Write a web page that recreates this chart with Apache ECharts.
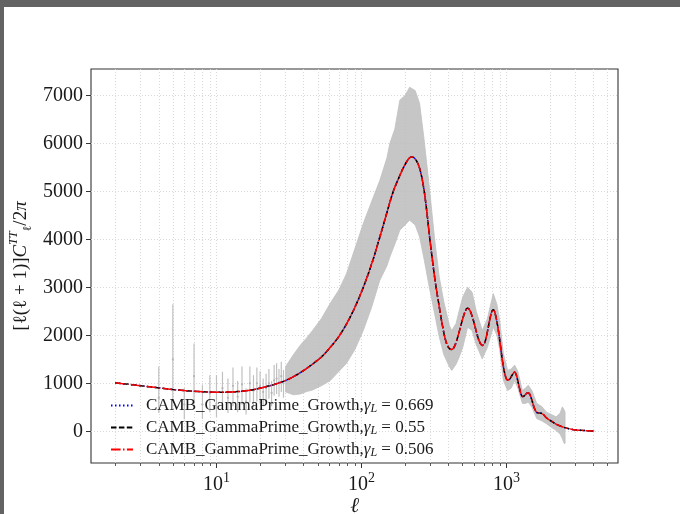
<!DOCTYPE html>
<html>
<head>
<meta charset="utf-8">
<script src="https://cdn.jsdelivr.net/npm/echarts@6/dist/echarts.min.js"></script>
<style>
  html, body { margin: 0; padding: 0; background: #ffffff; }
  #chart { width: 680px; height: 514px; }
</style>
</head>
<body>
<div id="chart"></div>
<script>
// ---- Theory spectra D_ell = ell(ell+1)C_ell/2pi (muK^2), three growth-index runs ----
const seriesNames = [
  'CAMB_GammaPrime_Growth,{g|γ}{s|L} = 0.669',
  'CAMB_GammaPrime_Growth,{g|γ}{s|L} = 0.55',
  'CAMB_GammaPrime_Growth,{g|γ}{s|L} = 0.506'
];
const theoryEll = [2, 3, 4, 5, 6, 7, 8, 10, 12, 14, 17, 21, 25, 30, 35, 40, 46, 53, 61, 70, 79, 90,
  103, 118, 134, 150, 165, 184, 200, 215, 225, 238, 252, 268, 282, 294, 308, 322, 344, 365, 385,
  405, 420, 440, 465, 495, 520, 540, 560, 590, 620, 650, 682, 710, 740, 770, 795, 815, 840, 870,
  900, 930, 960, 990, 1020, 1055, 1100, 1140, 1170, 1210, 1250, 1290, 1330, 1380, 1416, 1450,
  1500, 1560, 1620, 1680, 1740, 1800, 1870, 1950, 2050, 2200, 2450, 2700, 2910, 3300, 3700, 4030];
const theoryDl = [1010, 950, 905, 872, 850, 835, 825, 815, 818, 828, 855, 915, 975, 1060, 1160, 1270,
  1400, 1550, 1750, 1980, 2240, 2580, 3000, 3500, 4050, 4560, 4980, 5330, 5560, 5700, 5715, 5650,
  5480, 5100, 4600, 4100, 3600, 3150, 2600, 2150, 1850, 1720, 1705, 1780, 2000, 2300, 2500, 2570,
  2520, 2330, 2080, 1880, 1790, 1850, 2080, 2340, 2500, 2535, 2430, 2200, 1900, 1560, 1300, 1130,
  1065, 1090, 1180, 1236, 1180, 1000, 820, 725, 740, 790, 806, 770, 650, 480, 395, 380, 375, 350,
  295, 250, 210, 150, 90, 55, 35, 20, 10, 5];

// ---- Measured spectrum: low multipoles as separate error bars ----
const lowEll = [4, 5, 6, 7, 8, 9, 10, 11, 12, 13, 14, 15, 16, 17, 18, 19, 20, 21, 22, 23, 24, 25, 26, 27, 28, 29];
const lowDl  = [700, 1500, 560, 1150, 560, 790, 580, 900, 700, 950, 720, 980, 620, 1000, 850, 1000, 940, 820, 900, 1000, 800, 1060, 1100, 1020, 1150, 1000];
const lowLo  = [380, 650, 250, 560, 260, 400, 300, 480, 380, 520, 400, 560, 350, 600, 500, 620, 580, 520, 600, 680, 520, 740, 780, 720, 820, 700];
const lowHi  = [1350, 2650, 900, 1830, 960, 1170, 1170, 1240, 1100, 1330, 1050, 1350, 900, 1350, 1170, 1330, 1250, 1100, 1200, 1300, 1050, 1380, 1420, 1300, 1450, 1280];

// ---- Measured spectrum: envelope of the dense error bars at higher multipoles ----
const bandEll = [30, 34, 38, 42, 46, 53, 61, 70, 79, 90, 103, 118, 134, 150, 157, 170, 184, 200, 215,
  235, 252, 270, 294, 320, 344, 370, 405, 420, 450, 473, 500, 540, 580, 620, 682, 740, 812, 860, 900,
  953, 1020, 1080, 1140, 1200, 1290, 1350, 1416, 1500, 1620, 1750, 1887, 2050, 2200, 2350, 2430, 2500, 2540];
const bandLo = [820, 760, 780, 830, 860, 950, 1060, 1250, 1420, 1700, 2100, 2600, 3150, 3450, 3630,
  3900, 4190, 4300, 4400, 4300, 4050, 3600, 3000, 2450, 1970, 1600, 1340, 1270, 1400, 1550, 1750, 2170,
  2100, 1800, 1510, 1750, 2170, 2000, 1700, 1060, 850, 900, 1060, 900, 580, 580, 610, 500, 265, 220,
  160, 80, 20, -60, -150, -250, -250];
const bandHi = [1350, 1600, 1800, 1950, 2100, 2350, 2670, 2950, 3290, 3800, 4330, 4800, 5230, 5700,
  6000, 6300, 6900, 7000, 7170, 7100, 6830, 6100, 5090, 4000, 3220, 2700, 2200, 2100, 2250, 2520, 2800,
  3000, 2900, 2500, 2100, 2350, 2870, 2650, 2300, 1620, 1270, 1300, 1380, 1250, 850, 900, 960, 850,
  580, 520, 400, 350, 300, 380, 510, 450, 400];

// ---- Axis ticks ----
const xMajorTicks = [10, 100, 1000];
const xMinorTicks = [2, 3, 4, 5, 6, 7, 8, 9, 20, 30, 40, 50, 60, 70, 80, 90,
  200, 300, 400, 500, 600, 700, 800, 900, 2000, 3000, 4000, 5000];
const yTicks = [0, 1000, 2000, 3000, 4000, 5000, 6000, 7000];

const serif = 'Liberation Serif';
const ink = '#1a1a1a';
const gridLine = { show: true, lineStyle: { color: '#d4d4d4', type: [1, 2], width: 0.9 } };
const errGray = '#c0c0c0';

const chart = echarts.init(document.getElementById('chart'), null, { renderer: 'canvas' });

const xExtent = { min: 1.363, max: 5888 };

const theoryData = theoryEll.map((l, i) => [l, theoryDl[i]]);
const lineStyles = [
  { color: '#0000ff', type: [1.5, 2.5], width: 1.5 },
  { color: '#000000', type: [5.5, 2.4], width: 1.5 },
  { color: '#ff0000', type: [9.6, 2.4, 1.5, 2.4], width: 1.5 }
];

const option = {
  animation: false,
  backgroundColor: '#ffffff',
  graphic: [
    { type: 'rect', shape: { x: 0, y: 0, width: 680, height: 7 }, style: { fill: '#636363' }, z: 100 },
    { type: 'rect', shape: { x: 0, y: 0, width: 4, height: 514 }, style: { fill: '#636363' }, z: 100 }
  ],
  grid: {
    left: 91, top: 69, right: 62, bottom: 51,
    outerBoundsMode: 'none', containLabel: false,
    show: true, borderColor: '#333333', borderWidth: 1.1, backgroundColor: 'transparent'
  },
  legend: {
    data: seriesNames,
    orient: 'vertical',
    left: 105, top: 392,
    itemWidth: 22, itemHeight: 14, itemGap: 4.5,
    itemStyle: { opacity: 0 },
    textStyle: {
      fontFamily: serif, fontSize: 17, color: ink, padding: [0, 0, 0, 8],
      rich: {
        g: { fontFamily: serif, fontSize: 17, fontStyle: 'italic', color: ink },
        s: { fontFamily: serif, fontSize: 12, fontStyle: 'italic', color: ink, verticalAlign: 'bottom', padding: [6, 0, 0, 0] }
      }
    }
  },
  xAxis: [
    {
      type: 'log', logBase: 10, min: xExtent.min, max: xExtent.max, gridIndex: 0, position: 'bottom',
      axisLine: { show: false, onZero: false },
      axisTick: { show: true, customValues: xMajorTicks, length: 5, lineStyle: { color: '#333', width: 1 } },
      axisLabel: {
        show: true, customValues: xMajorTicks, margin: 8,
        formatter: v => '{b|10}{s|' + Math.round(Math.log10(v)) + '}',
        rich: {
          b: { fontFamily: serif, fontSize: 20, color: ink, lineHeight: 24, verticalAlign: 'bottom' },
          s: { fontFamily: serif, fontSize: 14, color: ink, lineHeight: 24, verticalAlign: 'top' }
        }
      },
      splitLine: gridLine,
      name: 'ℓ', nameLocation: 'middle', nameGap: 44, nameMoveOverlap: false,
      nameTextStyle: {
        fontFamily: 'DejaVu Serif', fontSize: 21, fontStyle: 'italic', color: ink,
        verticalAlign: 'middle', lineHeight: 22
      }
    },
    {
      type: 'log', logBase: 10, min: xExtent.min, max: xExtent.max, gridIndex: 0, position: 'bottom',
      axisLine: { show: false, onZero: false },
      axisTick: { show: true, customValues: xMinorTicks, length: 3, lineStyle: { color: '#333', width: 0.8 } },
      axisLabel: { show: false },
      splitLine: gridLine
    }
  ],
  yAxis: [{
    type: 'value', min: -660, max: 7550,
    axisLine: { show: false, onZero: false },
    axisTick: { show: true, customValues: yTicks, length: 5, lineStyle: { color: '#333', width: 1 } },
    axisLabel: { customValues: yTicks, formatter: v => String(v), fontFamily: serif, fontSize: 20, color: ink, margin: 8 },
    splitLine: gridLine,
    name: '[ℓ(ℓ + 1)]{i|C}{sup|TT}{sub|ℓ}/2{i|π}',
    nameLocation: 'middle', nameRotate: 90, nameGap: 57, nameMoveOverlap: false,
    nameTextStyle: {
      fontFamily: serif, fontSize: 19, color: ink,
      rich: {
        i: { fontFamily: serif, fontSize: 19, fontStyle: 'italic', color: ink, lineHeight: 26, verticalAlign: 'middle' },
        sup: { fontFamily: serif, fontSize: 12, fontStyle: 'italic', color: ink, lineHeight: 26, verticalAlign: 'top' },
        sub: { fontFamily: serif, fontSize: 12, color: ink, lineHeight: 26, verticalAlign: 'bottom' }
      }
    }
  }],
  series: [
    {
      // filled envelope of the dense high-ell error bars
      name: 'band', type: 'custom', xAxisIndex: 0, yAxisIndex: 0,
      data: [[bandEll[0], bandLo[0]]],
      encode: { x: 0, y: 1 },
      renderItem: (params, api) => {
        const pts = [];
        for (let i = 0; i < bandEll.length; i++) pts.push(api.coord([bandEll[i], bandHi[i]]));
        for (let i = bandEll.length - 1; i >= 0; i--) pts.push(api.coord([bandEll[i], bandLo[i]]));
        return {
          type: 'polygon', shape: { points: pts },
          style: { fill: 'rgba(188,188,188,0.85)', stroke: errGray, lineWidth: 0.8 }
        };
      },
      clip: true, silent: true, z: 1
    },
    {
      name: 'lowEll', type: 'custom', xAxisIndex: 0, yAxisIndex: 0,
      data: lowEll.map((l, i) => [l, lowLo[i], lowHi[i], lowDl[i]]),
      encode: { x: 0, y: [1, 2, 3] },
      renderItem: (params, api) => {
        const top = api.coord([api.value(0), api.value(2)]);
        const bot = api.coord([api.value(0), api.value(1)]);
        const mid = api.coord([api.value(0), api.value(3)]);
        return {
          type: 'group',
          children: [
            { type: 'line', shape: { x1: top[0], y1: top[1], x2: bot[0], y2: bot[1] }, style: { stroke: errGray, lineWidth: 1.2 } },
            { type: 'circle', shape: { cx: mid[0], cy: mid[1], r: 1.1 }, style: { fill: '#b4b4b4' } }
          ]
        };
      },
      silent: true, z: 1
    }
  ].concat(seriesNames.map((name, k) => ({
    name: name, type: 'line', xAxisIndex: 0, yAxisIndex: 0,
    data: theoryData,
    smooth: 0.35, symbol: 'none', showSymbol: false,
    lineStyle: lineStyles[k], itemStyle: { color: lineStyles[k].color },
    z: 3 + k
  })))
};

chart.setOption(option);
</script>
</body>
</html>
